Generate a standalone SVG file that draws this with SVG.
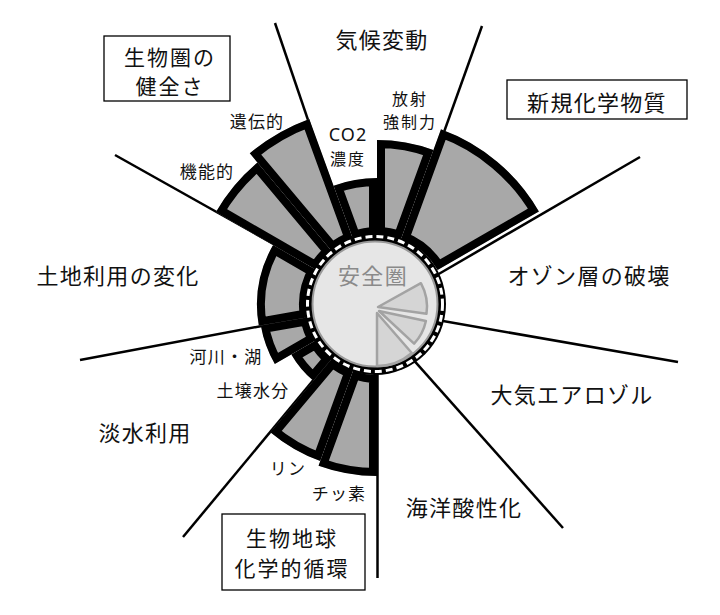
<svg xmlns="http://www.w3.org/2000/svg" xmlns:xlink="http://www.w3.org/1999/xlink" width="720" height="615" viewBox="0 0 720 615">
<style>
.bg{fill:#fff}
.ln{stroke:#000;stroke-width:2.5;fill:none;stroke-linecap:butt}
.wedge{fill:#a8a8a8;stroke:#000;stroke-width:16;stroke-linejoin:miter}
.inner{fill:#d5d5d5;stroke:#a3a3a3;stroke-width:2.5;stroke-linejoin:round}
.box{fill:#fff;stroke:#000;stroke-width:1.3}
text{font-family:"Noto Sans CJK JP","Noto Sans",sans-serif;fill:#111;text-anchor:middle}
.big{font-size:22px;letter-spacing:1.3px}
.bx{font-size:21px;letter-spacing:2px}
.sm{font-size:17px;letter-spacing:1.2px}
.sm2{font-size:16px;letter-spacing:2px}
.co{font-family:"Noto Sans","Noto Sans CJK JP",sans-serif;font-size:18px;letter-spacing:1px}
.safe{font-size:22px;letter-spacing:1.3px;fill:#8a8a8a}
</style>
<defs>
<path id="p-co2" d="M353.06,239.22 L333.57,185.66 A127,127 0 0 1 377,178 L377,235 A70,70 0 0 0 353.06,239.22 Z"/>
<path id="p-rf" d="M377,235 L377,140 A165,165 0 0 1 433.43,149.95 L400.94,239.22 A70,70 0 0 0 377,235 Z"/>
<path id="p-ne" d="M400.94,239.22 L440.95,129.28 A187,187 0 0 1 538.94,211.5 L437.62,270 A70,70 0 0 0 400.94,239.22 Z"/>
<path id="p-n" d="M377,375 L377,476 A171,171 0 0 1 318.52,465.69 L353.06,370.78 A70,70 0 0 0 377,375 Z"/>
<path id="p-p" d="M353.06,370.78 L320.23,460.99 A166,166 0 0 1 270.30,432.16 L332,358.62 A70,70 0 0 0 353.06,370.78 Z"/>
<path id="p-soil" d="M332,358.62 L313.36,380.83 A99,99 0 0 1 291.27,354.5 L316.38,340 A70,70 0 0 0 332,358.62 Z"/>
<path id="p-blue" d="M316.38,340 L274.81,364 A118,118 0 0 1 260.79,325.49 L308.06,317.15 A70,70 0 0 0 316.38,340 Z"/>
<path id="p-land" d="M308.06,317.15 L258.82,325.83 A120,120 0 0 1 273.08,245 L316.38,270 A70,70 0 0 0 308.06,317.15 Z"/>
<path id="p-func" d="M316.38,270 L215.92,212 A186,186 0 0 1 257.44,162.52 L332,251.38 A70,70 0 0 0 316.38,270 Z"/>
<path id="p-gen" d="M332,251.38 L249.73,153.33 A198,198 0 0 1 309.28,118.94 L353.06,239.22 A70,70 0 0 0 332,251.38 Z"/>
<clipPath id="c-co2"><use xlink:href="#p-co2"/></clipPath>
<clipPath id="c-rf"><use xlink:href="#p-rf"/></clipPath>
<clipPath id="c-ne"><use xlink:href="#p-ne"/></clipPath>
<clipPath id="c-n"><use xlink:href="#p-n"/></clipPath>
<clipPath id="c-p"><use xlink:href="#p-p"/></clipPath>
<clipPath id="c-soil"><use xlink:href="#p-soil"/></clipPath>
<clipPath id="c-blue"><use xlink:href="#p-blue"/></clipPath>
<clipPath id="c-land"><use xlink:href="#p-land"/></clipPath>
<clipPath id="c-func"><use xlink:href="#p-func"/></clipPath>
<clipPath id="c-gen"><use xlink:href="#p-gen"/></clipPath>
</defs>
<rect class="bg" x="0" y="0" width="720" height="615"/>

<g id="connectors">
<line class="ln" x1="275" y1="23" x2="371" y2="305"/>
<line class="ln" x1="482" y1="26" x2="382" y2="305"/>
<line class="ln" x1="640" y1="157" x2="437" y2="275"/>
<line class="ln" x1="678" y1="362" x2="433" y2="319.3"/>
<line class="ln" x1="563" y1="528" x2="405" y2="350.4"/>
<line class="ln" x1="377.5" y1="370" x2="377.5" y2="578"/>
<line class="ln" x1="183" y1="537" x2="330" y2="360"/>
<line class="ln" x1="80" y1="360" x2="310" y2="317"/>
<line class="ln" x1="115" y1="155" x2="320" y2="270"/>
</g>

<g id="wedge-co2"><use xlink:href="#p-co2" class="wedge" clip-path="url(#c-co2)"/></g>
<g id="wedge-rf"><use xlink:href="#p-rf" class="wedge" clip-path="url(#c-rf)"/></g>
<g id="wedge-ne"><use xlink:href="#p-ne" class="wedge" clip-path="url(#c-ne)"/></g>
<g id="wedge-n"><use xlink:href="#p-n" class="wedge" clip-path="url(#c-n)"/></g>
<g id="wedge-p"><use xlink:href="#p-p" class="wedge" clip-path="url(#c-p)"/></g>
<g id="wedge-soil"><use xlink:href="#p-soil" class="wedge" clip-path="url(#c-soil)"/></g>
<g id="wedge-blue"><use xlink:href="#p-blue" class="wedge" clip-path="url(#c-blue)"/></g>
<g id="wedge-land"><use xlink:href="#p-land" class="wedge" clip-path="url(#c-land)"/></g>
<g id="wedge-func"><use xlink:href="#p-func" class="wedge" clip-path="url(#c-func)"/></g>
<g id="wedge-gen"><use xlink:href="#p-gen" class="wedge" clip-path="url(#c-gen)"/></g>

<g id="safe-zone">
<circle cx="375" cy="304" r="71" fill="#000"/>
<circle cx="375" cy="304" r="67.5" fill="none" stroke="#fff" stroke-width="3" stroke-dasharray="7 4"/>
<circle cx="375" cy="304" r="62.5" fill="#e6e6e6" stroke="#999" stroke-width="2"/>
<path class="inner" d="M378,307 L420.9,283.2 A49,49 0 0 1 426.5,313.8 Z"/>
<path class="inner" d="M379,311 L425.9,321 A48,48 0 0 1 414.1,343.7 Z"/>
<path class="inner" d="M377,313 L411.8,353 A53,53 0 0 1 377,366 Z"/>
<text class="safe" x="373" y="284">安全圏</text>
</g>

<g id="label-climate"><text class="big" x="382" y="48">気候変動</text></g>
<g id="label-co2"><text class="co" x="348" y="141">CO2</text><text class="sm2" x="348" y="165">濃度</text></g>
<g id="label-rf"><text class="sm2" x="410" y="105">放射</text><text class="sm2" x="410" y="128">強制力</text></g>
<g id="label-novel"><rect class="box" x="507" y="80" width="180" height="39"/><text class="big" x="597" y="111">新規化学物質</text></g>
<g id="label-ozone"><text class="big" x="589" y="284">オゾン層の破壊</text></g>
<g id="label-aerosol"><text class="big" x="572" y="403">大気エアロゾル</text></g>
<g id="label-ocean"><text class="big" x="464" y="516">海洋酸性化</text></g>
<g id="label-biogeo"><rect class="box" x="222" y="514" width="143" height="76"/><text class="bx" x="292" y="546">生物地球</text><text class="bx" x="292" y="576">化学的循環</text></g>
<g id="label-n"><text class="sm" x="339" y="500">チッ素</text></g>
<g id="label-p"><text class="sm" x="288" y="475">リン</text></g>
<g id="label-fresh"><text class="big" x="145" y="441">淡水利用</text></g>
<g id="label-soil"><text class="sm" x="253" y="397">土壌水分</text></g>
<g id="label-blue"><text class="sm" x="226" y="363">河川・湖</text></g>
<g id="label-land"><text class="big" x="118" y="284">土地利用の変化</text></g>
<g id="label-bio"><rect class="box" x="104" y="36" width="126" height="65"/><text class="bx" x="170" y="65">生物圏の</text><text class="bx" x="170" y="94">健全さ</text></g>
<g id="label-func"><text class="sm" x="207" y="178">機能的</text></g>
<g id="label-gen"><text class="sm" x="257" y="128">遺伝的</text></g>
</svg>
